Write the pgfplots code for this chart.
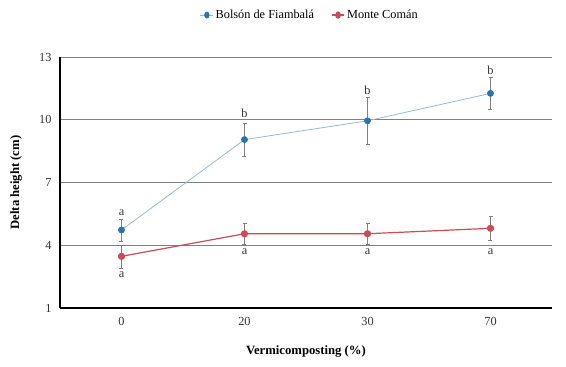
\documentclass[border=0pt]{standalone}
\usepackage{fontspec}
\setmainfont{Liberation Serif}
\usepackage{pgfplots}
\pgfplotsset{compat=1.18}
\definecolor{bluemk}{RGB}{40,115,180}
\definecolor{blueln}{RGB}{150,185,215}
\definecolor{redc}{RGB}{205,75,85}
\definecolor{gridc}{RGB}{128,128,128}
\begin{document}
\begin{tikzpicture}[x=1pt,y=1pt]
\path[use as bounding box] (0,0) rectangle (566,367);
\begin{axis}[
  at={(60pt,59pt)}, anchor=south west,
  scale only axis, width=492pt, height=251pt,
  xmin=-0.5, xmax=3.5, ymin=1, ymax=13,
  xtick={0,1,2,3}, xticklabels={0,20,30,70},
  ytick={1,4,7,10,13},
  ymajorgrids, grid style={gridc, line width=0.8pt},
  axis x line=bottom, axis y line=left,
  axis line style={-, line width=1.6pt, black},
  major tick length=0pt,
  tick label style={font=\fontsize{12.3}{14}\selectfont, text=black!80},
  /pgf/number format/assume math mode=true,
  xticklabel style={yshift=-6pt},
  yticklabel style={xshift=-5pt},
  xlabel={\textbf{Vermicomposting (\%)}},
  ylabel={\textbf{Delta height (cm)}},
  label style={font=\fontsize{12.7}{14}\selectfont},
  xlabel style={at={(0.5,0)}, anchor=center, yshift=-43pt},
  ylabel style={at={(0,0.5)}, anchor=center, xshift=0pt, yshift=44pt},
  legend columns=2,
  legend style={at={(0.508,1.167)}, anchor=center, draw=none, fill=none,
    font=\fontsize{12.3}{14}\selectfont,
    /tikz/every even column/.append style={column sep=15pt}},
  legend image post style={xscale=0.75},
  error bars/error bar style={gridc, line width=0.6pt},
  error bars/error mark options={rotate=90, mark size=2pt, gridc, line width=0.6pt},
  clip=false,
]
\addplot[blueln, line width=0.8pt, mark=*, mark size=3pt,
  mark options={bluemk, fill=bluemk},
  error bars/.cd, y dir=both, y explicit]
  coordinates {(0,4.73) +- (0,0.52) (1,9.05) +- (0,0.79) (2,9.95) +- (0,1.13) (3,11.26) +- (0,0.76)};
\addlegendentry{Bolsón de Fiambalá}
\addplot[redc, line width=1.2pt, mark=*, mark size=3pt,
  mark options={redc, fill=redc},
  error bars/.cd, y dir=both, y explicit]
  coordinates {(0,3.47) +- (0,0.55) (1,4.55) +- (0,0.49) (2,4.55) +- (0,0.49) (3,4.81) +- (0,0.57)};
\addlegendentry{Monte Comán}
\begin{scope}[every node/.style={font=\fontsize{12.3}{14}\selectfont, text=black!80}]
\node at (axis cs:0,5.56) {a};
\node at (axis cs:1,10.32) {b};
\node at (axis cs:2,11.43) {b};
\node at (axis cs:3,12.35) {b};
\node at (axis cs:0,2.61) {a};
\node at (axis cs:1,3.69) {a};
\node at (axis cs:2,3.69) {a};
\node at (axis cs:3,3.69) {a};
\end{scope}
\end{axis}
\end{tikzpicture}
\end{document}
